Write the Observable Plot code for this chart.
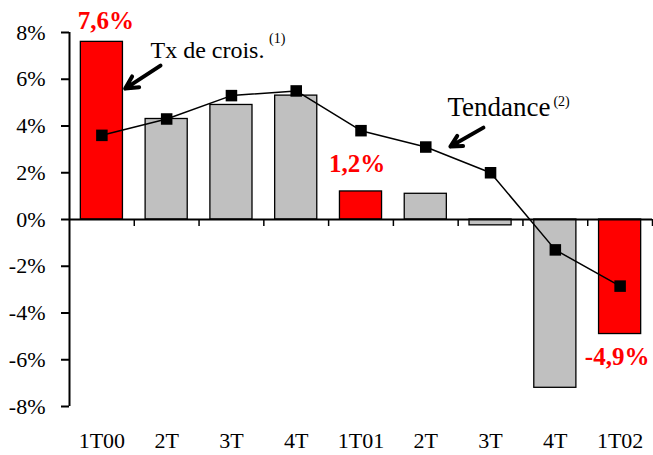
<!DOCTYPE html>
<html><head><meta charset="utf-8">
<script src="https://cdn.jsdelivr.net/npm/d3@7"></script>
<script src="https://cdn.jsdelivr.net/npm/@observablehq/plot@0.6"></script>
<style>body{margin:0;background:#fff} svg{display:block} svg text, svg g{font-family:'Liberation Serif','Times New Roman',serif !important}</style>
</head><body><div id="chart"></div>
<script>
const categories = ["1T00","2T","3T","4T","1T01","2T","3T","4T","1T02"];
const growth = [7.6, 4.3, 4.9, 5.3, 1.2, 1.1, -0.25, -7.2, -4.9];
const trend = [3.6, 4.3, 5.3, 5.5, 3.8, 3.1, 2.0, -1.3, -2.85];
const highlighted = [true, false, false, false, true, false, false, false, true];
const yTicks = [-8, -6, -4, -2, 0, 2, 4, 6, 8];
const valueLabels = ["7,6%", "1,2%", "-4,9%"];
const valueLabelIndex = [0, 4, 8];

const rows = categories.map((c, i) => ({i, cat: c, growth: growth[i], trend: trend[i], hi: highlighted[i]}));
const lab = valueLabelIndex.map((i, k) => ({i, v: growth[i], text: valueLabels[k]}));
const boundaries = categories.map((c, i) => i + 0.5);
const half = 0.325;
const serif = "'Liberation Serif', 'Times New Roman', serif";

const chart = Plot.plot({
  width: 653, height: 455,
  marginLeft: 69, marginRight: 1, marginTop: 32, marginBottom: 49,
  style: {fontFamily: serif, background: "#fff", color: "#000", overflow: "visible"},
  x: {domain: [-0.5, 8.5], axis: null, label: null},
  y: {domain: [-8, 8], axis: null, label: null},
  marks: [
    Plot.rectY(rows, {x1: d => d.i - half, x2: d => d.i + half, y1: 0, y2: "growth",
      fill: d => d.hi ? "#ff0000" : "#c0c0c0", stroke: "#000", strokeWidth: 1.3}),
    Plot.ruleY([0], {stroke: "#000", strokeWidth: 2}),
    Plot.ruleX(boundaries, {x: d => d, y1: 0, y2: -0.3, stroke: "#000", strokeWidth: 1.5}),
    Plot.ruleX([-0.5], {y1: -8, y2: 8, stroke: "#000", strokeWidth: 2}),
    Plot.axisY({ticks: yTicks, tickFormat: d => `${d}%`, tickSize: 8, tickPadding: 16,
      fontSize: 22, fontFamily: serif, strokeWidth: 2, fill: "#000", label: null}),
    Plot.axisX({ticks: categories.map((c, i) => i), tickFormat: i => categories[i],
      tickSize: 0, tickPadding: 26, fontSize: 22, fontFamily: serif, fill: "#000", label: null}),
    Plot.line(rows, {x: "i", y: "trend", stroke: "#000", strokeWidth: 1.5}),
    Plot.dot(rows, {x: "i", y: "trend", symbol: "square", r: 6.5, fill: "#000"}),
    Plot.text([lab[0]], {x: "i", y: "v", text: "text", dy: -13, dx: 4, lineAnchor: "bottom",
      fill: "#ff0000", fontWeight: "bold", fontSize: 25}),
    Plot.text([lab[1]], {x: "i", y: "v", text: "text", dy: -19, dx: -4, lineAnchor: "bottom",
      fill: "#ff0000", fontWeight: "bold", fontSize: 25}),
    Plot.text([lab[2]], {x: "i", y: "v", text: "text", dy: 31, dx: -3, lineAnchor: "bottom",
      fill: "#ff0000", fontWeight: "bold", fontSize: 25}),
    Plot.text(["Tx de crois."], {x: 0.75, y: 6.92, text: d => d, textAnchor: "start",
      lineAnchor: "bottom", fontSize: 24, fill: "#000"}),
    Plot.text(["(1)"], {x: 2.58, y: 7.56, text: d => d, textAnchor: "start",
      lineAnchor: "bottom", fontSize: 14, fill: "#000"}),
    Plot.text(["Tendance"], {x: 5.335, y: 4.44, text: d => d, textAnchor: "start",
      lineAnchor: "bottom", fontSize: 27, fill: "#000"}),
    Plot.text(["(2)"], {x: 6.97, y: 4.87, text: d => d, textAnchor: "start",
      lineAnchor: "bottom", fontSize: 14, fill: "#000"}),
    Plot.arrow([0], {x1: 0.905, y1: 6.58, x2: 0.36, y2: 5.6, stroke: "#000",
      strokeWidth: 4, headLength: 11, headAngle: 55}),
    Plot.arrow([0], {x1: 5.89, y1: 3.93, x2: 5.38, y2: 3.12, stroke: "#000",
      strokeWidth: 4, headLength: 11, headAngle: 55})
  ]
});
document.getElementById("chart").appendChild(chart);
</script>
</body></html>
